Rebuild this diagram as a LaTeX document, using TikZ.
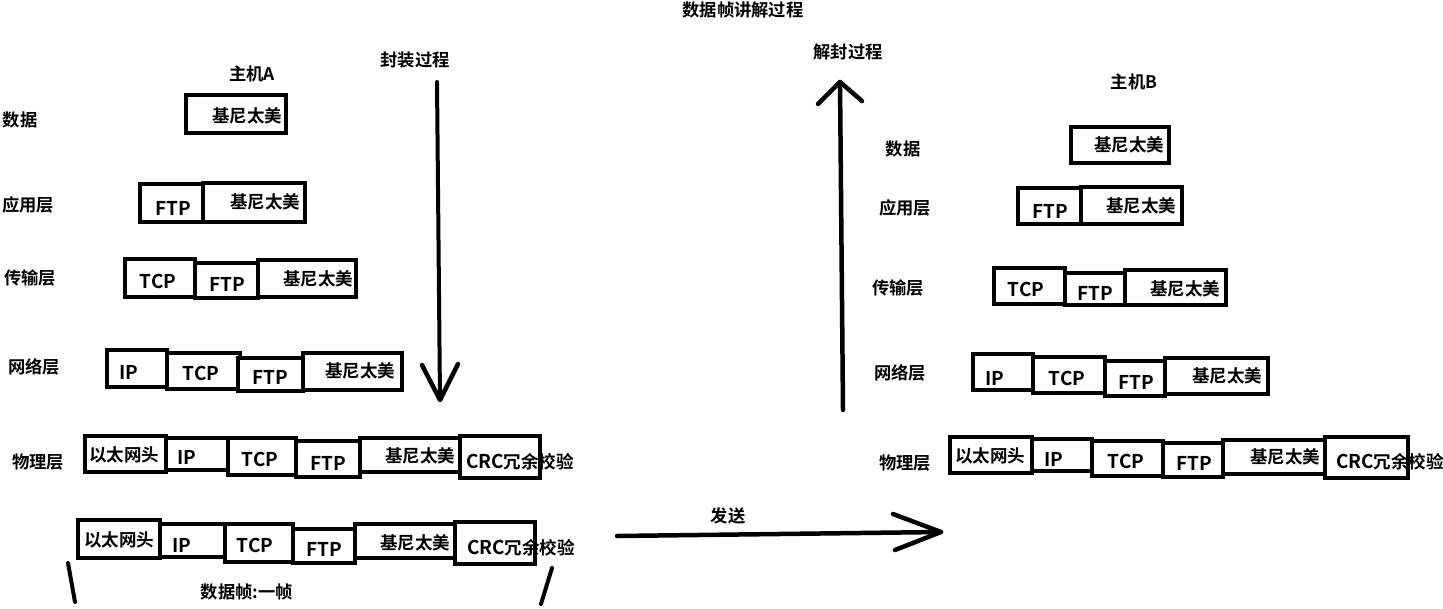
\documentclass[tikz,border=0pt]{standalone}
\usepackage{fontspec}
\setmainfont{Noto Sans CJK SC}[BoldFont={Noto Sans CJK SC Bold}]
\newcommand\lt{\fontsize{19}{21}\selectfont}
\tikzset{
  box/.style={draw=black, fill=white, line width=4.5pt, inner sep=0pt, outer sep=0pt},
  txt/.style={inner sep=0pt, font=\fontsize{17.5}{20}\selectfont\bfseries},
  lbl/.style={inner sep=0pt, font=\fontsize{17.3}{20}\selectfont\bfseries},
  stroke/.style={line width=4.5pt, line cap=round, line join=round},
}
\newcommand\bx[8]{%
  \node[box, minimum width={(#4)-(#2)}, minimum height={(#5)-(#3)}] (#1) at ({((#2)+(#4))/2},{((#3)+(#5))/2}) {};
  \node[txt] (#1t) at (#6,#7) {#8};}
\begin{document}
\begin{tikzpicture}[x=1pt,y=-1pt]
\useasboundingbox[fill=white] (0,0) rectangle (1443,608);

% titles
\node[lbl] (title) at (743,10) {数据帧讲解过程};
\node[lbl] (feng) at (415,60) {封装过程};
\node[lbl] (jie) at (848,52) {解封过程};
\node[lbl] (hostA) at (252,74) {主机A};
\node[lbl] (hostB) at (1134,82) {主机B};

% layer labels A
\node[lbl] (lA0) at (20,120) {数据};
\node[lbl] (lA1) at (28,205) {应用层};
\node[lbl] (lA2) at (30,278) {传输层};
\node[lbl] (lA3) at (34,367) {网络层};
\node[lbl] (lA4) at (38,462) {物理层};

% layer labels B
\node[lbl] (lB0) at (903,149) {数据};
\node[lbl] (lB1) at (905,208) {应用层};
\node[lbl] (lB2) at (898,288) {传输层};
\node[lbl] (lB3) at (900,373) {网络层};
\node[lbl] (lB4) at (905,463) {物理层};

% Host A boxes
\bx{a0d}{186}{95}{286}{133}{247}{116}{基尼太美}

\bx{a1f}{140}{184}{205}{222}{173}{208}{\lt FTP}
\bx{a1d}{203}{183}{305}{222}{265}{202}{基尼太美}

\bx{a2t}{125}{259}{195}{297}{158}{281}{\lt TCP}
\bx{a2f}{195}{263}{258}{298}{227}{284}{\lt FTP}
\bx{a2d}{258}{260}{356}{297}{318}{279}{基尼太美}

\bx{a3i}{107}{350}{167}{387}{129}{372}{\lt IP}
\bx{a3t}{167}{353}{240}{389}{201}{373}{\lt TCP}
\bx{a3f}{238}{358}{303}{391}{270}{377}{\lt FTP}
\bx{a3d}{303}{353}{402}{390}{360}{371}{基尼太美}

\bx{a4e}{85}{436}{166}{472}{124}{455}{以太网头}
\bx{a4i}{166}{438}{228}{470}{187}{457}{\lt IP}
\bx{a4t}{228}{438}{296}{475}{260}{459}{\lt TCP}
\bx{a4f}{296}{441}{360}{477}{328}{463}{\lt FTP}
\bx{a4d}{360}{438}{460}{472}{420}{456}{基尼太美}
\bx{a4c}{460}{436}{540}{478}{520}{462}{{\lt CRC}冗余校验}

% frame row
\bx{fe}{78}{520}{160}{558}{119}{540}{以太网头}
\bx{fi}{160}{524}{225}{557}{182}{545}{\lt IP}
\bx{ft}{225}{524}{293}{562}{255}{545}{\lt TCP}
\bx{ff}{293}{529}{355}{563}{324}{549}{\lt FTP}
\bx{fd}{355}{524}{455}{558}{415}{543}{基尼太美}
\bx{fc}{455}{522}{535}{564}{521}{548}{{\lt CRC}冗余校验}

\coordinate (sl1a) at (68,563);
\coordinate (sl1b) at (75,602);
\coordinate (sl2a) at (552,568);
\coordinate (sl2b) at (541,604);
\draw[stroke, line width=4pt] (sl1a) -- (sl1b);
\draw[stroke, line width=4pt] (sl2a) -- (sl2b);
\node[lbl] (frame) at (247,592) {数据帧:一帧};

% Host B boxes
\bx{b0d}{1071}{127}{1169}{163}{1129}{145}{基尼太美}

\bx{b1f}{1018}{188}{1081}{224}{1050}{211}{\lt FTP}
\bx{b1d}{1081}{187}{1182}{224}{1141}{206}{基尼太美}

\bx{b2t}{994}{268}{1065}{304}{1026}{289}{\lt TCP}
\bx{b2f}{1065}{273}{1125}{305}{1095}{293}{\lt FTP}
\bx{b2d}{1125}{270}{1226}{305}{1185}{289}{基尼太美}

\bx{b3i}{973}{354}{1033}{390}{995}{378}{\lt IP}
\bx{b3t}{1033}{357}{1105}{393}{1067}{378}{\lt TCP}
\bx{b3f}{1105}{361}{1165}{396}{1136}{382}{\lt FTP}
\bx{b3d}{1165}{358}{1268}{394}{1227}{376}{基尼太美}

\bx{b4e}{950}{437}{1032}{473}{990}{456}{以太网头}
\bx{b4i}{1032}{439}{1092}{471}{1054}{459}{\lt IP}
\bx{b4t}{1092}{441}{1163}{476}{1126}{461}{\lt TCP}
\bx{b4f}{1163}{443}{1223}{477}{1194}{463}{\lt FTP}
\bx{b4d}{1223}{440}{1325}{474}{1285}{457}{基尼太美}
\bx{b4c}{1325}{437}{1408}{478}{1390}{462}{{\lt CRC}冗余校验}

% encapsulation arrow (down)
\coordinate (dS) at (437,82);
\coordinate (dE) at (440,400);
\coordinate (dL) at (422,365);
\coordinate (dR) at (458,364);
\draw[stroke, line width=4pt] (dS) -- (dE);
\draw[stroke] (dL) -- (dE) -- (dR);

% decapsulation arrow (up)
\coordinate (uS) at (843,410);
\coordinate (uE) at (840,82);
\coordinate (uL) at (818,104);
\coordinate (uR) at (862,101);
\draw[stroke] (uS) -- (uE);
\draw[stroke] (uL) -- (uE) -- (uR);

% send arrow
\coordinate (sS) at (617,536);
\coordinate (sE) at (941,532);
\coordinate (sT) at (893,514);
\coordinate (sB) at (895,550);
\draw[stroke] (sS) -- (sE);
\draw[stroke] (sT) -- (sE) -- (sB);
\node[lbl] (send) at (728,516) {发送};
\end{tikzpicture}
\end{document}
